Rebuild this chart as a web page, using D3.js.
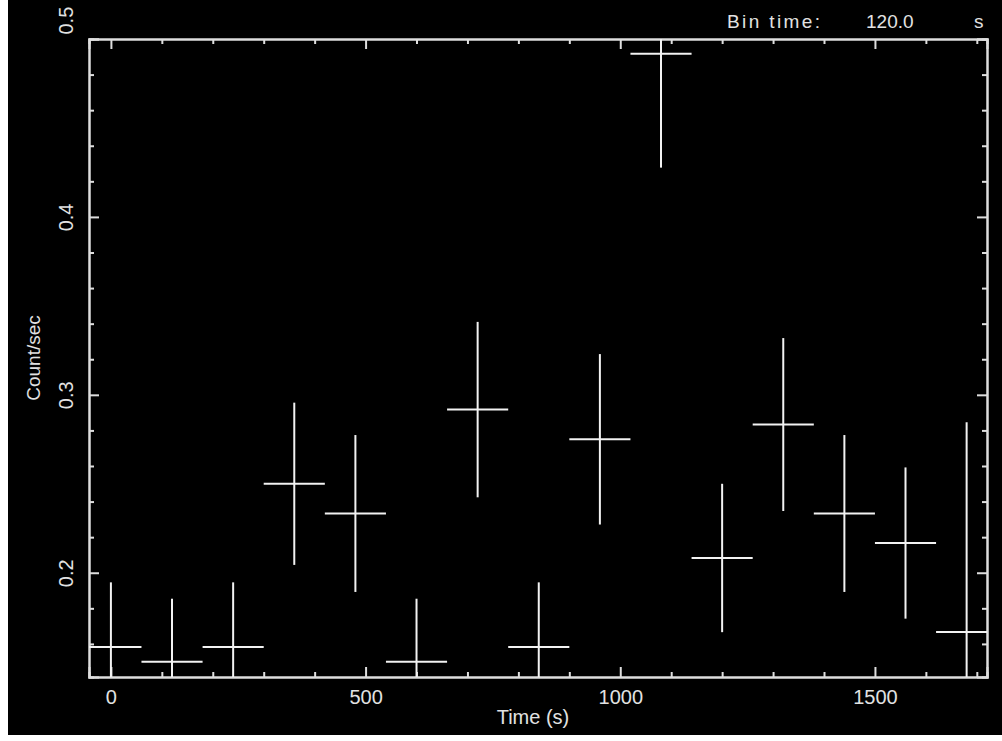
<!DOCTYPE html>
<html>
<head>
<meta charset="utf-8">
<script src="https://cdn.jsdelivr.net/npm/d3@7"></script>
<style>
  body { margin: 0; background: #fff; }
  svg { display: block; }
  text { font-family: "Liberation Sans", Arial, sans-serif; fill: #e2e2e2; }
  .axis path, .axis line { stroke: #dedede; stroke-width: 2; }
</style>
</head>
<body>
<svg width="1002" height="741"></svg>
<script>
// light curve, 120 s bins
var timeBins = [0, 120, 240, 360, 480, 600, 720, 840, 960, 1080, 1200, 1320, 1440, 1560, 1680];
var rates    = [0.1583, 0.1500, 0.1583, 0.2500, 0.2333, 0.1500, 0.2917, 0.1583, 0.2750, 0.4917, 0.2083, 0.2833, 0.2333, 0.2167, 0.1667];
var errors   = [0.0363, 0.0354, 0.0363, 0.0456, 0.0441, 0.0354, 0.0493, 0.0363, 0.0479, 0.0640, 0.0417, 0.0486, 0.0441, 0.0425, 0.1179];
var halfBin  = 60;

var xMajor = [0, 500, 1000, 1500];
var xMinor = [100, 200, 300, 400, 600, 700, 800, 900, 1100, 1200, 1300, 1400, 1600, 1700];
var yMajor = [0.2, 0.3, 0.4, 0.5];
var yMinor = [0.16, 0.18, 0.22, 0.24, 0.26, 0.28, 0.32, 0.34, 0.36, 0.38, 0.42, 0.44, 0.46, 0.48];

var svg = d3.select("svg");
var plotL = 89, plotR = 987, plotT = 39, plotB = 677;

svg.append("rect")
    .attr("x", 8).attr("y", 0)
    .attr("width", 994).attr("height", 735)
    .attr("fill", "#000");

var x = d3.scaleLinear().domain([-43, 1720]).range([plotL, plotR]);
var y = d3.scaleLinear().domain([0.1414, 0.5]).range([plotB, plotT]);

svg.append("clipPath").attr("id", "frame")
  .append("rect")
    .attr("x", plotL).attr("y", plotT)
    .attr("width", plotR - plotL).attr("height", plotB - plotT);

// ticks on all four sides, pointing in
function addAxis(axis, tx, ty) {
    return svg.append("g").attr("class", "axis")
        .attr("transform", "translate(" + tx + "," + ty + ")")
        .call(axis);
}

addAxis(d3.axisBottom(x).tickValues(xMinor).tickSize(-5).tickFormat(""), 0, plotB);
addAxis(d3.axisTop(x).tickValues(xMinor).tickSize(-5).tickFormat(""), 0, plotT);
addAxis(d3.axisTop(x).tickValues(xMajor).tickSize(-10).tickFormat(""), 0, plotT);
var xg = addAxis(d3.axisBottom(x).tickValues(xMajor).tickSize(-10).tickPadding(13).tickFormat(d3.format("d")), 0, plotB);

addAxis(d3.axisLeft(y).tickValues(yMinor).tickSize(-5).tickFormat(""), plotL, 0);
addAxis(d3.axisRight(y).tickValues(yMinor).tickSize(-5).tickFormat(""), plotR, 0);
addAxis(d3.axisRight(y).tickValues(yMajor).tickSize(-10).tickFormat(""), plotR, 0);
var yg = addAxis(d3.axisLeft(y).tickValues(yMajor).tickSize(-10).tickFormat(d3.format(".1f")), plotL, 0);

svg.selectAll(".axis path.domain").attr("fill", "none");
svg.selectAll(".axis").attr("font-size", null).attr("font-family", null);

xg.selectAll("text").attr("font-size", "20px");

yg.selectAll("text")
    .attr("font-size", "20px")
    .attr("transform", "rotate(-90)")
    .attr("x", function(d) { return d === 0.5 ? 5 : 0; })
    .attr("y", -16)
    .attr("dy", 0)
    .attr("text-anchor", function(d) { return d === 0.5 ? "start" : "middle"; });

// error crosses
var marks = svg.append("g").attr("clip-path", "url(#frame)")
    .selectAll("g").data(timeBins).enter().append("g");

marks.append("line")
    .attr("x1", function(d) { return x(d - halfBin); })
    .attr("x2", function(d) { return x(d + halfBin); })
    .attr("y1", function(d, i) { return y(rates[i]); })
    .attr("y2", function(d, i) { return y(rates[i]); })
    .attr("stroke", "#f2f2f2").attr("stroke-width", 2);

marks.append("line")
    .attr("x1", function(d) { return x(d); })
    .attr("x2", function(d) { return x(d); })
    .attr("y1", function(d, i) { return y(rates[i] + errors[i]); })
    .attr("y2", function(d, i) { return y(rates[i] - errors[i]); })
    .attr("stroke", "#f2f2f2").attr("stroke-width", 2);

// labels
svg.append("text")
    .attr("x", 533).attr("y", 724)
    .attr("text-anchor", "middle").attr("font-size", "20px")
    .text("Time (s)");

svg.append("text")
    .attr("transform", "translate(40," + ((plotT + plotB) / 2) + ") rotate(-90)")
    .attr("text-anchor", "middle").attr("font-size", "19px")
    .text("Count/sec");

svg.append("text")
    .attr("x", 727).attr("y", 28).attr("font-size", "19px")
    .attr("textLength", 93).attr("lengthAdjust", "spacing")
    .text("Bin time:");
svg.append("text")
    .attr("x", 866).attr("y", 28).attr("font-size", "19px")
    .text("120.0");
svg.append("text")
    .attr("x", 974).attr("y", 28).attr("font-size", "19px")
    .text("s");
</script>
</body>
</html>
